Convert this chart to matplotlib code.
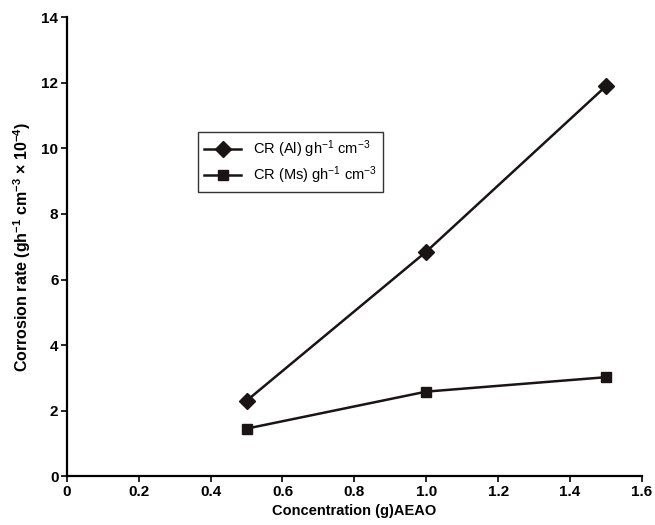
import matplotlib.pyplot as plt

plt.rcParams['font.family'] = ['Liberation Sans', 'DejaVu Sans']
plt.rcParams['mathtext.fontset'] = 'custom'
plt.rcParams['mathtext.rm'] = 'Liberation Sans'
plt.rcParams['mathtext.bf'] = 'Liberation Sans:bold'

conc = [0.5, 1.0, 1.5]
cr_al = [2.3, 6.85, 11.9]
cr_ms = [1.45, 2.58, 3.02]
xticks = [0, 0.2, 0.4, 0.6, 0.8, 1.0, 1.2, 1.4, 1.6]
xticklabels = ['0', '0.2', '0.4', '0.6', '0.8', '1.0', '1.2', '1.4', '1.6']
yticks = [0, 2, 4, 6, 8, 10, 12, 14]

fig = plt.figure(figsize=(6.55, 5.25), dpi=100)
ax = fig.add_axes([0.102, 0.093, 0.878, 0.874])

ax.plot(conc, cr_al, color='#1a1414', lw=1.8, marker='D', markersize=8,
        label=r'CR (Al) gh$\mathrm{^{-1}}$ cm$\mathrm{^{-3}}$')
ax.plot(conc, cr_ms, color='#1a1414', lw=1.8, marker='s', markersize=6.5,
        label=r'CR (Ms) gh$\mathrm{^{-1}}$ cm$\mathrm{^{-3}}$')

ax.set_xlim(0, 1.6)
ax.set_ylim(0, 14)
ax.set_xticks(xticks)
ax.set_xticklabels(xticklabels)
ax.set_yticks(yticks)
for lab in ax.get_xticklabels() + ax.get_yticklabels():
    lab.set_fontweight('bold')
    lab.set_fontsize(11)
ax.tick_params(direction='out', length=4, width=1.2, pad=2)

ax.spines['top'].set_visible(False)
ax.spines['right'].set_visible(False)
ax.spines['left'].set_linewidth(1.6)
ax.spines['bottom'].set_linewidth(1.6)

ax.set_xlabel('Concentration (g)AEAO', fontsize=10.5, fontweight='bold', labelpad=4)
ax.set_ylabel(r'Corrosion rate (gh$\mathbf{^{-1}}$ cm$\mathbf{^{-3}}$ $\mathbf{\times}$ 10$\mathbf{^{-4}}$)',
              fontsize=11.5, fontweight='bold', labelpad=6)

leg = ax.legend(loc='upper left', bbox_to_anchor=(0.215, 0.765), fontsize=10.5,
                frameon=True, fancybox=False, handlelength=2.6,
                borderpad=0.4, labelspacing=0.3)
leg.get_frame().set_edgecolor('black')
leg.get_frame().set_linewidth(1.0)

fig.savefig('out.png', dpi=100)
